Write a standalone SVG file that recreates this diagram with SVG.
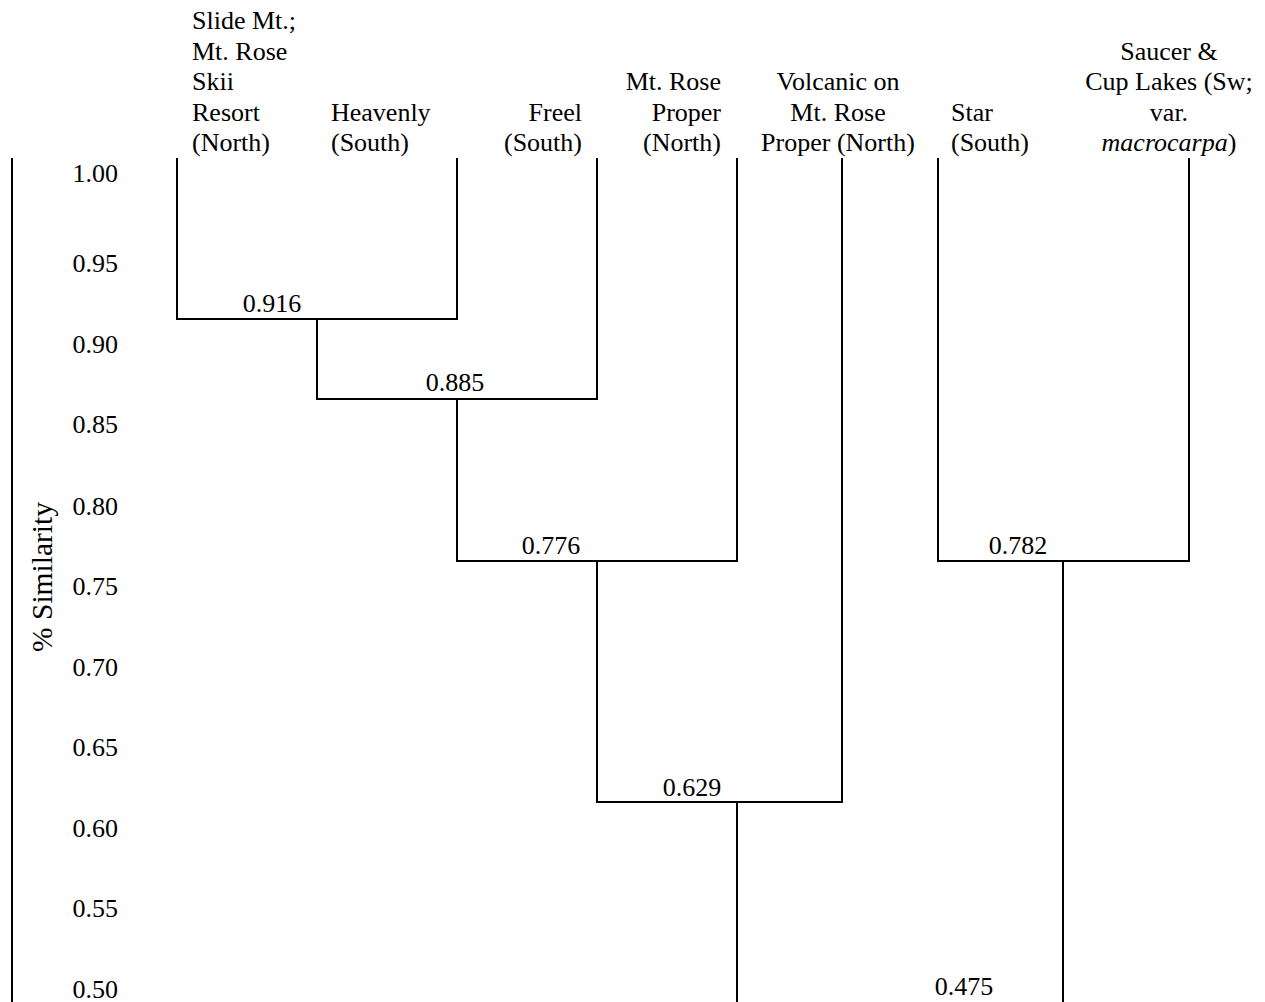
<svg xmlns="http://www.w3.org/2000/svg" width="1265" height="1002" viewBox="0 0 1265 1002">
<style>
text{font-family:"Liberation Serif","Times New Roman",serif;font-size:26px;fill:#000}
.tick{text-anchor:end}
.mid{text-anchor:middle}
.end{text-anchor:end}
.val{text-anchor:middle}
.ax{font-size:29.5px}
line{stroke:#000;stroke-width:2}
</style>
<rect width="1265" height="1002" fill="#fff"/>
<g id="axis">
<line x1="12" y1="158" x2="12" y2="1002"/>
<text class="tick" x="118" y="182">1.00</text>
<text class="tick" x="118" y="272">0.95</text>
<text class="tick" x="118" y="353">0.90</text>
<text class="tick" x="118" y="433">0.85</text>
<text class="tick" x="118" y="515">0.80</text>
<text class="tick" x="118" y="595">0.75</text>
<text class="tick" x="118" y="676">0.70</text>
<text class="tick" x="118" y="756">0.65</text>
<text class="tick" x="118" y="837">0.60</text>
<text class="tick" x="118" y="917">0.55</text>
<text class="tick" x="118" y="998">0.50</text>
<text class="ax mid" transform="translate(52,577) rotate(-90)">% Similarity</text>
</g>
<g id="leaf-slide">
<text x="192" y="29">Slide Mt.;</text>
<text x="192" y="59.5">Mt. Rose</text>
<text x="192" y="90">Skii</text>
<text x="192" y="120.5">Resort</text>
<text x="192" y="151">(North)</text>
</g>
<g id="leaf-heavenly">
<text x="331" y="120.5">Heavenly</text>
<text x="331" y="151">(South)</text>
</g>
<g id="leaf-freel">
<text class="end" x="582" y="120.5">Freel</text>
<text class="end" x="582" y="151">(South)</text>
</g>
<g id="leaf-mtrose">
<text class="end" x="721" y="90">Mt. Rose</text>
<text class="end" x="721" y="120.5">Proper</text>
<text class="end" x="721" y="151">(North)</text>
</g>
<g id="leaf-volcanic">
<text class="mid" x="838" y="90">Volcanic on</text>
<text class="mid" x="838" y="120.5">Mt. Rose</text>
<text class="mid" x="838" y="151">Proper (North)</text>
</g>
<g id="leaf-star">
<text x="951" y="120.5">Star</text>
<text x="951" y="151">(South)</text>
</g>
<g id="leaf-saucer">
<text class="mid" x="1169" y="59.5">Saucer &amp;</text>
<text class="mid" x="1169" y="90">Cup Lakes (Sw;</text>
<text class="mid" x="1169" y="120.5">var.</text>
<text class="mid" x="1169" y="151"><tspan font-style="italic">macrocarpa</tspan>)</text>
</g>
<g id="connectors">
<line x1="177" y1="158" x2="177" y2="319"/>
<line x1="457" y1="158" x2="457" y2="319"/>
<line x1="176" y1="319" x2="458" y2="319"/>
<line x1="317" y1="319" x2="317" y2="399"/>
<line x1="597" y1="158" x2="597" y2="399"/>
<line x1="316" y1="399" x2="598" y2="399"/>
<line x1="457" y1="399" x2="457" y2="561"/>
<line x1="737" y1="158" x2="737" y2="561"/>
<line x1="456" y1="561" x2="738" y2="561"/>
<line x1="597" y1="561" x2="597" y2="802"/>
<line x1="842" y1="158" x2="842" y2="802"/>
<line x1="596" y1="802" x2="843" y2="802"/>
<line x1="737" y1="802" x2="737" y2="1002"/>
<line x1="938" y1="158" x2="938" y2="561"/>
<line x1="1189" y1="158" x2="1189" y2="561"/>
<line x1="937" y1="561" x2="1190" y2="561"/>
<line x1="1063" y1="561" x2="1063" y2="1002"/>
</g>
<g id="values">
<text class="val" x="272" y="312">0.916</text>
<text class="val" x="455" y="391">0.885</text>
<text class="val" x="551" y="554">0.776</text>
<text class="val" x="1018" y="554">0.782</text>
<text class="val" x="692" y="796">0.629</text>
<text class="val" x="964" y="995">0.475</text>
</g>
</svg>
